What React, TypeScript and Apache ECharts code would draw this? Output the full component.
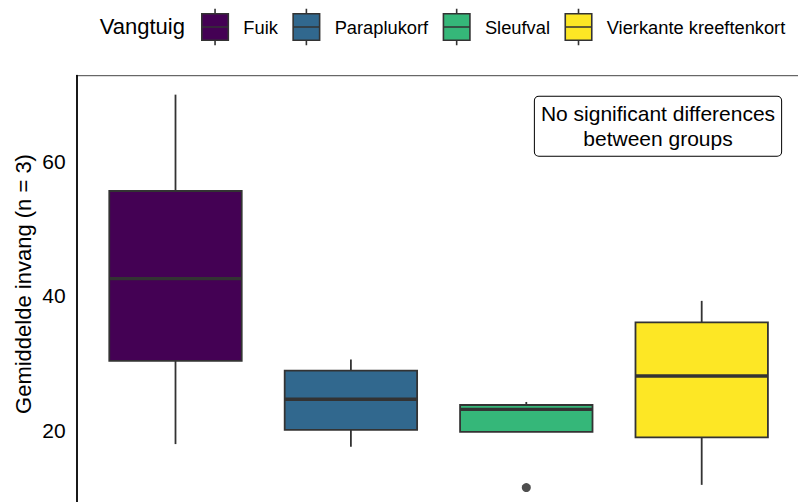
import React, { useEffect, useRef } from "react";
import * as echarts from "echarts";

const categories = ["Fuik", "Paraplukorf", "Sleufval", "Vierkante kreeftenkort"];
const colors = ["#440154", "#31688E", "#35B779", "#FDE725"];
// [lower whisker, Q1, median, Q3, upper whisker]
const boxStats = [
  [18.0, 30.35, 42.55, 55.55, 69.85],
  [17.6, 20.1, 24.65, 28.9, 30.55],
  [19.8, 19.8, 23.15, 23.8, 24.25],
  [11.95, 19.0, 28.1, 36.05, 39.25],
];
// [category index, value]
const outliers = [[2, 11.55]];
const yTicks = [20, 40, 60];
const legendTitle = "Vangtuig";
const yTitle = "Gemiddelde invang (n = 3)";
const note = "No significant differences\nbetween groups";

const FONT = "'Liberation Sans', Arial, sans-serif";
const EDGE = "#333333";

const iconPath =
  "path://M13.25,0 L13.25,5 M0,5 L26.5,5 L26.5,31.5 L0,31.5 Z M0,18.25 L26.5,18.25 M13.25,31.5 L13.25,36.5";

export default function App() {
  const ref = useRef<HTMLDivElement>(null);
  useEffect(() => {
    if (!ref.current) return;
    const chart = echarts.init(ref.current, undefined, { renderer: "svg" });

    const boxSeries = categories.map((name, i) => ({
      name,
      type: "custom",
      itemStyle: { color: colors[i] },
      encode: { x: 0, y: [1, 2, 3, 4, 5] },
      data: [[i, ...boxStats[i]]],
      z: 2,
      renderItem: (params: any, api: any) => {
        const idx = api.value(0);
        const lo = api.coord([idx, api.value(1)]);
        const q1 = api.coord([idx, api.value(2)]);
        const med = api.coord([idx, api.value(3)]);
        const q3 = api.coord([idx, api.value(4)]);
        const hi = api.coord([idx, api.value(5)]);
        const band = api.size([1, 0])[0];
        const w = band * 0.755;
        const cx = lo[0];
        const x0 = cx - w / 2;
        const fill = api.visual("color");
        return {
          type: "group",
          children: [
            {
              type: "line",
              shape: { x1: cx, y1: hi[1], x2: cx, y2: q3[1] },
              style: { stroke: EDGE, lineWidth: 1.8 },
            },
            {
              type: "line",
              shape: { x1: cx, y1: q1[1], x2: cx, y2: lo[1] },
              style: { stroke: EDGE, lineWidth: 1.8 },
            },
            {
              type: "rect",
              shape: { x: x0, y: q3[1], width: w, height: q1[1] - q3[1] },
              style: { fill, stroke: EDGE, lineWidth: 1.8 },
            },
            {
              type: "line",
              shape: { x1: x0, y1: med[1], x2: x0 + w, y2: med[1] },
              style: { stroke: EDGE, lineWidth: 3.4 },
            },
          ],
        };
      },
    }));

    chart.setOption({
      animation: false,
      backgroundColor: "#ffffff",
      grid: { left: 87.8, right: 8.6, top: 75.7, bottom: 14.6 },
      xAxis: {
        type: "category",
        data: categories,
        axisLine: { show: false },
        axisTick: { show: false },
        axisLabel: { show: false },
        splitLine: { show: false },
      },
      yAxis: {
        type: "value",
        min: 0,
        max: 72.66,
        interval: 20,
        offset: 11.1,
        axisLine: { show: true, lineStyle: { color: "#000", width: 1.8 } },
        axisTick: { show: false },
        splitLine: { show: false },
        axisLabel: {
          margin: 11,
          fontSize: 21,
          color: "#000",
          fontFamily: FONT,
          formatter: (v: number) => (yTicks.includes(v) ? String(v) : ""),
        },
      },
      legend: {
        left: 201,
        top: 8,
        padding: 0,
        itemWidth: 26.5,
        itemHeight: 36.5,
        itemGap: 14.5,
        selectedMode: false,
        textStyle: {
          fontSize: 18.3,
          color: "#000",
          fontFamily: FONT,
          padding: [0, 0, 0, 10],
        },
        data: categories.map((c, i) => ({
          name: c,
          icon: iconPath,
          itemStyle: { color: colors[i], borderColor: EDGE, borderWidth: 1.6 },
        })),
      },
      graphic: [
        {
          type: "line",
          shape: { x1: 76, y1: 75.7, x2: 798, y2: 75.7 },
          style: { stroke: "#444", lineWidth: 1 },
          silent: true,
        },
        {
          type: "text",
          x: 99.7,
          y: 26,
          style: {
            text: legendTitle,
            fontSize: 22,
            fontFamily: FONT,
            fill: "#000",
            align: "left",
            verticalAlign: "middle",
          },
        },
        {
          type: "text",
          x: 23,
          y: 284,
          rotation: Math.PI / 2,
          style: {
            text: yTitle,
            fontSize: 22,
            fontFamily: FONT,
            fill: "#000",
            align: "center",
            verticalAlign: "middle",
          },
        },
        {
          type: "text",
          x: 658,
          y: 126.3,
          z: 10,
          style: {
            text: note,
            fontSize: 21,
            fontFamily: FONT,
            lineHeight: 25,
            fill: "#000",
            align: "center",
            verticalAlign: "middle",
            padding: [4.5, 6],
            borderColor: "#000",
            borderWidth: 1,
            borderRadius: 4,
            backgroundColor: "#fff",
          },
        },
      ],
      series: [
        ...boxSeries,
        {
          name: "outlier",
          type: "scatter",
          data: outliers,
          symbol: "circle",
          symbolSize: 9,
          itemStyle: { color: "#222" },
          z: 3,
        },
      ],
    });
    return () => chart.dispose();
  }, []);

  return (
    <div
      style={{
        position: "absolute",
        left: 0,
        top: 0,
        width: 798,
        height: 502,
        overflow: "hidden",
        background: "#fff",
      }}
    >
      <div ref={ref} style={{ width: 798, height: 580 }} />
    </div>
  );
}
